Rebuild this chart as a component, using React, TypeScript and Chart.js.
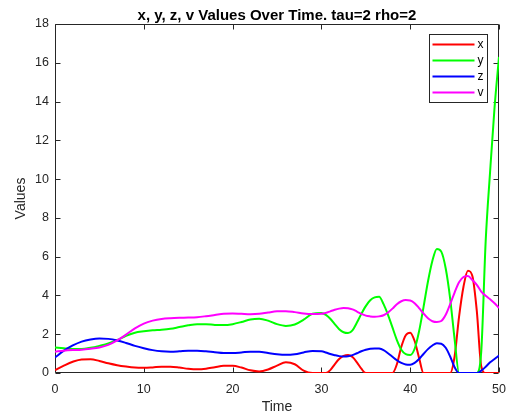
import { useEffect, useRef } from "react";
import { Chart, registerables } from "chart.js";

Chart.register(...registerables);

const FONT = '"Liberation Sans", Arial, Helvetica, sans-serif';
const AXIS_COLOR = "#262626";

const TITLE = "x, y, z, v Values Over Time. tau=2 rho=2";
const X_TITLE = "Time";
const Y_TITLE = "Values";

const X_TICKS = [0, 10, 20, 30, 40, 50];
const Y_TICKS = [0, 2, 4, 6, 8, 10, 12, 14, 16, 18];

const TIMES = [
  0, 1, 2, 3, 4, 5, 6, 7, 8, 9, 10, 11, 12, 13, 14, 15, 16, 17, 18, 19, 20,
  21, 22, 23, 24, 25, 26, 27, 28, 29, 30,
  30.5, 31, 31.5, 32, 32.5, 33, 33.5, 34, 34.5, 35,
  35.5, 36, 36.5, 37, 37.5, 38, 38.5, 39, 39.5, 40,
  40.5, 41, 41.5, 42, 42.5, 43, 43.5, 44, 44.5, 45,
  45.5, 46, 46.5, 47, 47.5, 48, 48.5, 49, 49.5, 50,
];

const X_VALUES = [
  0.15, 0.38, 0.58, 0.7, 0.71, 0.62, 0.5, 0.4, 0.33, 0.28, 0.27, 0.29, 0.32,
  0.32, 0.28, 0.22, 0.19, 0.22, 0.3, 0.37, 0.37, 0.28, 0.14, 0.08, 0.18, 0.38,
  0.55, 0.45, 0.12, 0, 0,
  0, 0.15, 0.45, 0.72, 0.88, 0.93, 0.82, 0.55, 0.22, 0,
  0, 0, 0, 0, 0, 0, 0.45, 1.35, 1.95, 2.08,
  1.65, 0.78, 0, 0, 0, 0, 0, 0, 0, 0.85,
  2.9, 4.45, 5.28, 5.0, 3.2, 0.35, 0, 0, 0, 0,
];

const Y_VALUES = [
  1.32, 1.28, 1.24, 1.24, 1.3, 1.4, 1.52, 1.7, 1.92, 2.08, 2.15, 2.2, 2.23,
  2.28, 2.37, 2.46, 2.52, 2.52, 2.48, 2.47, 2.52, 2.63, 2.76, 2.8, 2.7, 2.52,
  2.43, 2.5, 2.75, 3.06, 3.1,
  3.0, 2.8, 2.52, 2.26, 2.1, 2.06, 2.2, 2.6, 3.05, 3.45,
  3.75, 3.9, 3.93, 3.55, 3.0, 2.35, 1.7, 1.2, 0.97, 0.93,
  1.25, 2.15, 3.4, 4.72, 5.79, 6.4, 6.26, 5.39, 3.84, 1.75,
  0, 0, 0, 0, 0, 1.1, 6.8, 10.4, 13.7, 16.3,
];

const Z_VALUES = [
  0.8, 1.15, 1.42, 1.62, 1.73, 1.78, 1.76, 1.68, 1.55, 1.4, 1.28, 1.18, 1.12,
  1.1, 1.12, 1.15, 1.15, 1.12, 1.07, 1.03, 1.03, 1.06, 1.1, 1.09, 1.03, 0.97,
  0.94, 0.97, 1.06, 1.14, 1.12,
  1.06, 0.98, 0.92, 0.87, 0.85, 0.86, 0.92, 1.02, 1.12, 1.2,
  1.25, 1.27, 1.26, 1.18, 1.02, 0.84, 0.66, 0.52, 0.44, 0.43,
  0.52, 0.72, 0.98, 1.23, 1.42, 1.53, 1.51, 1.3, 0.85, 0.3,
  0, 0, 0, 0, 0, 0.12, 0.32, 0.55, 0.72, 0.9,
];

const V_VALUES = [
  1.1, 1.15, 1.18, 1.2, 1.25, 1.32, 1.45, 1.68, 1.98, 2.3, 2.55, 2.7, 2.79,
  2.83, 2.85, 2.86, 2.88, 2.93, 2.99, 3.05, 3.07, 3.05, 3.03, 3.05, 3.12, 3.18,
  3.19, 3.14, 3.07, 3.04, 3.05,
  3.1, 3.18, 3.26, 3.32, 3.35, 3.34, 3.28, 3.17, 3.05, 2.96,
  2.92, 2.9, 2.92, 2.98, 3.12, 3.32, 3.55, 3.7, 3.76, 3.74,
  3.6, 3.35, 3.07, 2.82, 2.67, 2.63, 2.68, 3.0, 3.55, 4.15,
  4.68, 4.95, 5.0, 4.8, 4.55, 4.2, 3.98, 3.8, 3.6, 3.35,
];

const SERIES_LABELS = ["x", "y", "z", "v"];
const SERIES_VALUES = [X_VALUES, Y_VALUES, Z_VALUES, V_VALUES];
const SERIES_COLORS = ["#ff0000", "#00ff00", "#0000ff", "#ff00ff"];

// Axes box with inward-pointing ticks, a title centred over the plot, and a boxed legend
const boxPlugin = {
  id: "axesBox",
  beforeDatasetsDraw(chart: any) {
    const { ctx, chartArea, scales } = chart;
    const l = Math.round(chartArea.left) + 0.5;
    const r = Math.round(chartArea.right) - 0.5;
    const t = Math.round(chartArea.top) + 0.5;
    const b = Math.round(chartArea.bottom) - 0.5;
    const len = 5;
    ctx.save();
    ctx.strokeStyle = AXIS_COLOR;
    ctx.lineWidth = 1;
    ctx.beginPath();
    ctx.rect(l, t, r - l, b - t);
    for (const v of X_TICKS) {
      const px = Math.round(scales.x.getPixelForValue(v)) + 0.5;
      ctx.moveTo(px, b);
      ctx.lineTo(px, b - len);
      ctx.moveTo(px, t);
      ctx.lineTo(px, t + len);
    }
    for (const v of Y_TICKS) {
      const py = Math.round(scales.y.getPixelForValue(v)) + 0.5;
      ctx.moveTo(l, py);
      ctx.lineTo(l + len, py);
      ctx.moveTo(r, py);
      ctx.lineTo(r - len, py);
    }
    ctx.stroke();

    ctx.fillStyle = "#000000";
    ctx.font = `bold 15px ${FONT}`;
    ctx.textAlign = "center";
    ctx.textBaseline = "middle";
    ctx.fillText(TITLE, (chartArea.left + chartArea.right) / 2, 15.5);
    ctx.restore();
  },
  afterDraw(chart: any) {
    const { ctx, chartArea } = chart;
    const w = 58;
    const h = 68;
    const x0 = Math.round(chartArea.right) - 70 + 0.5;
    const y0 = Math.round(chartArea.top) + 10 + 0.5;
    ctx.save();
    ctx.fillStyle = "#ffffff";
    ctx.fillRect(x0, y0, w, h);
    ctx.strokeStyle = AXIS_COLOR;
    ctx.lineWidth = 1;
    ctx.strokeRect(x0, y0, w, h);
    ctx.font = `12px ${FONT}`;
    ctx.textBaseline = "middle";
    ctx.textAlign = "left";
    chart.data.datasets.forEach((ds: any, i: number) => {
      const yy = y0 + 10 + i * 16;
      ctx.strokeStyle = ds.borderColor;
      ctx.lineWidth = 2;
      ctx.beginPath();
      ctx.moveTo(x0 + 3, yy);
      ctx.lineTo(x0 + 45, yy);
      ctx.stroke();
      ctx.fillStyle = "#000000";
      ctx.fillText(ds.label, x0 + 48, yy + 0.5);
    });
    ctx.restore();
  },
};

export default function App() {
  const canvasRef = useRef<HTMLCanvasElement | null>(null);

  useEffect(() => {
    const canvas = canvasRef.current;
    if (!canvas) return;

    const datasets = SERIES_LABELS.map((label, i) => ({
      label,
      data: TIMES.map((t, j) => ({ x: t, y: SERIES_VALUES[i][j] })),
      borderColor: SERIES_COLORS[i],
      backgroundColor: SERIES_COLORS[i],
      borderWidth: 2,
      pointRadius: 0,
      cubicInterpolationMode: "monotone" as const,
      fill: false,
      order: SERIES_LABELS.length - i,
    }));

    const chart = new Chart(canvas, {
      type: "line",
      data: { datasets },
      plugins: [boxPlugin],
      options: {
        responsive: false,
        animation: false,
        devicePixelRatio: 1,
        layout: { padding: { left: 0, right: 8, top: 24, bottom: 0 } },
        plugins: {
          legend: { display: false },
          tooltip: { enabled: false },
          title: { display: false },
        },
        scales: {
          x: {
            type: "linear",
            min: 0,
            max: 50,
            afterBuildTicks: (s: any) => {
              s.ticks = X_TICKS.map((v) => ({ value: v }));
            },
            afterFit: (s: any) => {
              s.height = 44;
              s.paddingLeft = 0;
              s.paddingRight = 0;
            },
            grid: { display: false, drawTicks: false },
            border: { display: false },
            ticks: {
              color: AXIS_COLOR,
              font: { family: FONT, size: 12.5 },
              padding: 9,
              maxRotation: 0,
              autoSkip: false,
            },
            title: {
              display: true,
              text: X_TITLE,
              color: AXIS_COLOR,
              font: { family: FONT, size: 14 },
              padding: { top: 0, bottom: 1 },
            },
          },
          y: {
            type: "linear",
            min: 0,
            max: 18,
            afterBuildTicks: (s: any) => {
              s.ticks = Y_TICKS.map((v) => ({ value: v }));
            },
            afterFit: (s: any) => {
              s.width = 55;
              s.paddingTop = 0;
              s.paddingBottom = 0;
            },
            grid: { display: false, drawTicks: false },
            border: { display: false },
            ticks: {
              color: AXIS_COLOR,
              font: { family: FONT, size: 12.5 },
              padding: 6,
              autoSkip: false,
            },
            title: {
              display: true,
              text: Y_TITLE,
              color: AXIS_COLOR,
              font: { family: FONT, size: 14 },
              padding: { top: 13, bottom: 0 },
            },
          },
        },
      },
    });

    return () => chart.destroy();
  }, []);

  return (
    <div style={{ position: "fixed", left: 0, top: 0, width: 507, height: 417, background: "#ffffff" }}>
      <canvas ref={canvasRef} width={507} height={417} style={{ display: "block", width: 507, height: 417 }} />
    </div>
  );
}
